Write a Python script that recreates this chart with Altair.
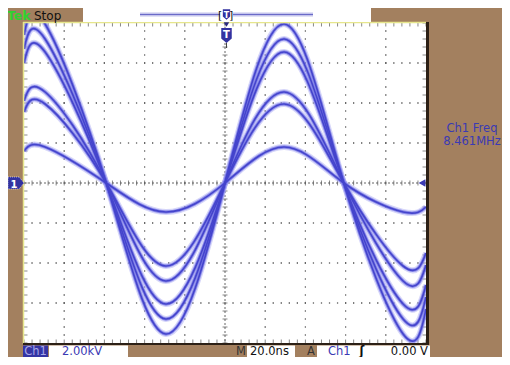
import altair as alt
import pandas as pd

t_ns = [-100, -89.5, -59.1, -29.5, 0, 29.5, 59.1, 88.6, 100]
trace_1 = [7.4, 7.95, 0, -7.55, 0, 7.95, 0, -7.55, -6.3]
trace_2 = [6.7, 7.2, 0, -6.8, 0, 7.2, 0, -6.8, -5.7]
trace_3 = [6.0, 6.55, 0, -6.05, 0, 6.55, 0, -6.05, -5.1]
trace_4 = [4.1, 4.55, 0, -4.9, 0, 4.55, 0, -4.9, -4.1]
trace_5 = [3.55, 3.95, 0, -4.15, 0, 3.95, 0, -4.15, -3.5]
trace_6 = [1.6, 1.8, 0, -1.45, 0, 1.8, 0, -1.45, -1.2]
traces = [trace_1, trace_2, trace_3, trace_4, trace_5, trace_6]

# graticule: 10 x 20 ns, 8 x 2 kV, 5 minor marks per division
x_major = [-80, -60, -40, -20, 20, 40, 60, 80]
y_major = [-6, -4, -2, 2, 4, 6]
x_minor = [-100 + 4 * i for i in range(51)]
y_minor = [round(-8 + 0.4 * i, 2) for i in range(41)]

W, H = 402, 320
BLUE = "#3a3ab4"
FONT = "DejaVu Sans"

xs = alt.Scale(domain=[-100, 100], nice=False, zero=False)
ys = alt.Scale(domain=[-8, 8], nice=False, zero=False)

rows = []
for k, tr in enumerate(traces):
    for t, v in zip(t_ns, tr):
        rows.append({"trace": k, "t": t, "v": v})
wave_df = pd.DataFrame(rows)

dots = [{"t": x, "v": y} for x in x_major for y in y_minor[1:-1]]
dots += [{"t": x, "v": y} for y in y_major for x in x_minor[1:-1]]
dots_df = pd.DataFrame(dots)

xt_df = pd.DataFrame({"t": x_minor})
yt_df = pd.DataFrame({"v": y_minor})

X = lambda f: alt.X(f, type="quantitative", scale=xs, axis=None)
Y = lambda f: alt.Y(f, type="quantitative", scale=ys, axis=None)

grid = alt.Chart(dots_df).mark_square(size=1.6, color="#505050", opacity=1).encode(x=X("t"), y=Y("v"))

center_h = alt.Chart(pd.DataFrame({"v": [0]})).mark_rule(color="#666", strokeDash=[2, 2], strokeWidth=1).encode(y=Y("v"))
center_v = alt.Chart(pd.DataFrame({"t": [0]})).mark_rule(color="#666", strokeDash=[2, 2], strokeWidth=1).encode(x=X("t"))

ctick_x = alt.Chart(xt_df).mark_tick(orient="vertical", size=5, thickness=1, color="#555").encode(
    x=X("t"), y=alt.Y("z:Q", scale=ys, axis=None)).transform_calculate(z="0")
ctick_y = alt.Chart(yt_df).mark_tick(orient="horizontal", size=5, thickness=1, color="#555").encode(
    y=Y("v"), x=alt.X("z:Q", scale=xs, axis=None)).transform_calculate(z="0")

etick_top = alt.Chart(xt_df).mark_tick(orient="vertical", size=7, thickness=1, color="#555", clip=True).encode(
    x=X("t"), y=alt.Y("z:Q", scale=ys, axis=None)).transform_calculate(z="8")
etick_bot = alt.Chart(xt_df).mark_tick(orient="vertical", size=7, thickness=1, color="#555", clip=True).encode(
    x=X("t"), y=alt.Y("z:Q", scale=ys, axis=None)).transform_calculate(z="-8")
etick_left = alt.Chart(yt_df).mark_tick(orient="horizontal", size=7, thickness=1, color="#555", clip=True).encode(
    y=Y("v"), x=alt.X("z:Q", scale=xs, axis=None)).transform_calculate(z="-100")
etick_right = alt.Chart(yt_df).mark_tick(orient="horizontal", size=7, thickness=1, color="#555", clip=True).encode(
    y=Y("v"), x=alt.X("z:Q", scale=xs, axis=None)).transform_calculate(z="100")

fuzz = alt.Chart(wave_df).mark_line(interpolate="natural", color="#a4a4f2", strokeWidth=6, opacity=0.45, clip=True).encode(
    x=X("t"), y=Y("v"), detail="trace:N")
halo = alt.Chart(wave_df).mark_line(interpolate="natural", color="#6c6ce2", strokeWidth=3.4, opacity=0.7, clip=True).encode(
    x=X("t"), y=Y("v"), detail="trace:N")
core = alt.Chart(wave_df).mark_line(interpolate="natural", color="#4444cc", strokeWidth=1.6, clip=True).encode(
    x=X("t"), y=Y("v"), detail="trace:N")

anno = alt.Chart(pd.DataFrame({"k": [0]}))


def rect(x1, x2, y1, y2, color, **kw):
    return anno.mark_rect(color=color, **kw).encode(x=alt.value(x1), x2=alt.value(x2), y=alt.value(y1), y2=alt.value(y2))


def hrule(x1, x2, y, color, w=1, **kw):
    return anno.mark_rule(color=color, strokeWidth=w, **kw).encode(x=alt.value(x1), x2=alt.value(x2), y=alt.value(y))


def vrule(x, y1, y2, color, w=1, **kw):
    return anno.mark_rule(color=color, strokeWidth=w, **kw).encode(x=alt.value(x), y=alt.value(y1), y2=alt.value(y2))


def text(s, x, y, color="#111", size=12, align="left", weight="normal"):
    return anno.mark_text(text=s, font=FONT, fontSize=size, color=color, align=align,
                          baseline="alphabetic", fontWeight=weight).encode(x=alt.value(x), y=alt.value(y))


def sym(shape, x, y, size, color, **kw):
    return anno.mark_point(shape=shape, size=size, filled=True, color=color, opacity=1, **kw).encode(
        x=alt.value(x), y=alt.value(y))


borders = [
    vrule(-0.5, -1, H + 1, "#e6e68c", 1.5),
    hrule(-1, W, -0.5, "#e6e68c", 1.5),
    vrule(W + 1.5, -1, H + 2, "#2c2016", 3),
    hrule(-1, W + 3, H + 1, "#2c2016", 2),
]

top_bar = [
    text("Tek", -17, -3.5, "#2fd42f", 12.5, weight="bold"),
    text("Stop", 10, -3.5, "#111", 12),
    rect(59, 347, -15, -1, "white"),
    hrule(116, 289, -8.5, "#c4c4ec", 4),
    hrule(116, 289, -8.5, "#6a6ac8", 1),
    rect(196, 209, -14, -3, "white"),
    text("[", 194, -4, "#111", 11),
    text("]", 205, -4, "#111", 11),
    sym("M -0.7 -1 L 0.7 -1 L 0.7 0.4 L 0 1 L -0.7 0.4 Z", 202.5, -8.5, 110, "#3232a0"),
    text("T", 202.5, -5.5, "white", 8, align="center", weight="bold"),
    sym("triangle-down", 202.5, 1.5, 30, "#2a2a80"),
    sym("M -0.7 -1 L 0.7 -1 L 0.7 0.4 L 0 1 L -0.7 0.4 Z", 202.5, 12.5, 225, "#3232a0"),
    text("T", 202.5, 14.5, "white", 10, align="center", weight="bold"),
    vrule(202.5, 20, 25, "#444", 1),
]

markers = [
    sym("M -1 -0.75 L 0.4 -0.75 L 1 0 L 0.4 0.75 L -1 0.75 Z", -8, H / 2, 256, "#3232a0",
        stroke="white", strokeWidth=0.6, strokeDash=[1, 1]),
    text("1", -10, H / 2 + 4.5, "white", 10, align="center", weight="bold"),
    sym("triangle-left", 398, H / 2, 60, BLUE),
]

right_panel = [
    text("Ch1 Freq", 448, 109, BLUE, 11.5, align="center"),
    text("8.461MHz", 448, 122, BLUE, 11.5, align="center"),
]

BY1, BY2, BT = H + 2.5, H + 14, H + 12.3
bottom_bar = [
    rect(-1, 24, BY1, BY2, "#3434a4"),
    text("Ch1", 11.5, BT, "#a8a8e8", 11.5, align="center"),
    rect(25, 104, BY1, BY2, "white"),
    text("2.00kV", 38, BT, BLUE, 11.5),
    text("M", 212, BT, "#333", 11.5),
    rect(223, 271, BY1, BY2, "white"),
    text("20.0ns", 226, BT, "#111", 11.5),
    text("A", 283, BT, "#333", 11.5),
    rect(293, 406, BY1, BY2, "white"),
    text("Ch1", 304, BT, BLUE, 11.5),
    text("ʃ", 338, BT, "#111", 11.5, align="center", weight="bold"),
    text("0.00 V", 404, BT, "#111", 11.5, align="right"),
]

chart = alt.layer(
    grid, center_h, center_v, ctick_x, ctick_y,
    etick_top, etick_bot, etick_left, etick_right,
    fuzz, halo, core,
    *borders, *top_bar, *markers, *right_panel, *bottom_bar,
).properties(
    width=W, height=H,
    padding={"left": 16, "top": 15, "right": 76, "bottom": 14},
    autosize=alt.AutoSizeParams(type="none"),
    background="#a3805f",
).configure_view(fill="white", stroke=None)

chart.save("out.html", embed_options={"renderer": "svg", "actions": False})
